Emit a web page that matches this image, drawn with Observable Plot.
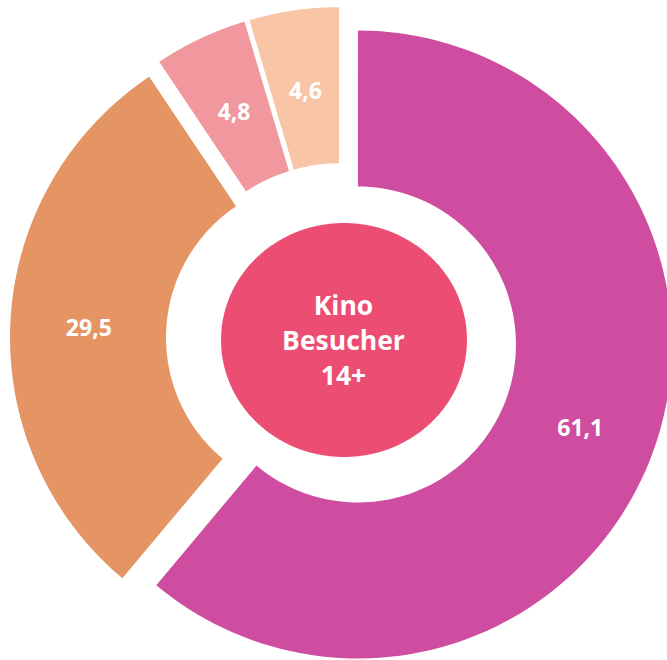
<!DOCTYPE html>
<html>
<head>
<meta charset="utf-8">
<script src="https://cdn.jsdelivr.net/npm/d3@7"></script>
<script src="https://cdn.jsdelivr.net/npm/@observablehq/plot@0.6"></script>
<style>
  html, body { margin: 0; padding: 0; background: #ffffff; }
  #chart svg { display: block; }
</style>
</head>
<body>
<div id="chart"></div>
<script>
// ---- data ----
const categories = ["s1", "s2", "s3", "s4"];
const values = [61.1, 29.5, 4.8, 4.6];
const valueLabels = ["61,1", "29,5", "4,8", "4,6"];
const palette = ["#CE4DA0", "#E59463", "#F1989F", "#F8C6A7"];
const centerText = ["Kino", "Besucher", "14+"];

// ---- layout (pixel units, centred on the donut) ----
const W = 667, H = 660;
const cx0 = 341.5, cy0 = 338.5;   // donut centre in pixels
const Rout = 314, Rin = 158, explode = 17.5;
const ell = {cx: 2.5, cy: 1.5, rx: 123, ry: 117};

const pie = d3.pie().sort(null).value(d => d)(values);
const rows = [];
const labelRows = [];
pie.forEach((p, i) => {
  const mid = (p.startAngle + p.endAngle) / 2;
  const ox = explode * Math.sin(mid), oy = -explode * Math.cos(mid);
  const n = 120;
  for (let k = 0; k <= n; k++) {
    const a = p.startAngle + (p.endAngle - p.startAngle) * k / n;
    rows.push({
      cat: categories[i],
      x1: ox + Rout * Math.sin(a), y1: oy - Rout * Math.cos(a),
      x2: ox + Rin * Math.sin(a),  y2: oy - Rin * Math.cos(a)
    });
  }
  const rm = (Rout + Rin) / 2;
  labelRows.push({x: ox + rm * Math.sin(mid), y: oy - rm * Math.cos(mid), text: valueLabels[i]});
});

const ellRows = d3.range(0, 181).map(k => {
  const t = Math.PI * k / 180;
  return {x: ell.cx + ell.rx * Math.cos(t), yTop: ell.cy - ell.ry * Math.sin(t), yBot: ell.cy + ell.ry * Math.sin(t)};
});

const chart = Plot.plot({
  width: W, height: H,
  margin: 0,
  x: {domain: [-cx0, W - cx0], range: [0, W], axis: null},
  y: {domain: [-cy0, H - cy0], range: [0, H], axis: null},
  color: {domain: categories, range: palette},
  style: {fontFamily: "'Open Sans', 'Segoe UI', sans-serif", background: "#ffffff"},
  marks: [
    Plot.area(rows, {x1: "x1", y1: "y1", x2: "x2", y2: "y2", z: "cat", fill: "cat", curve: "linear"}),
    Plot.text(labelRows, {x: "x", y: "y", text: "text", fill: "white", fontSize: 23, fontWeight: "bold", dy: 3}),
    Plot.area(ellRows, {x1: "x", y1: "yTop", x2: "x", y2: "yBot", fill: "#EC4D73", curve: "linear"}),
    Plot.text([centerText.join("\n")], {x: () => ell.cx - 1, y: () => ell.cy - 2, text: d => d, fill: "white", fontSize: 26.5, fontWeight: "bold", lineHeight: 1.32})
  ]
});
document.getElementById("chart").appendChild(chart);
</script>
</body>
</html>
